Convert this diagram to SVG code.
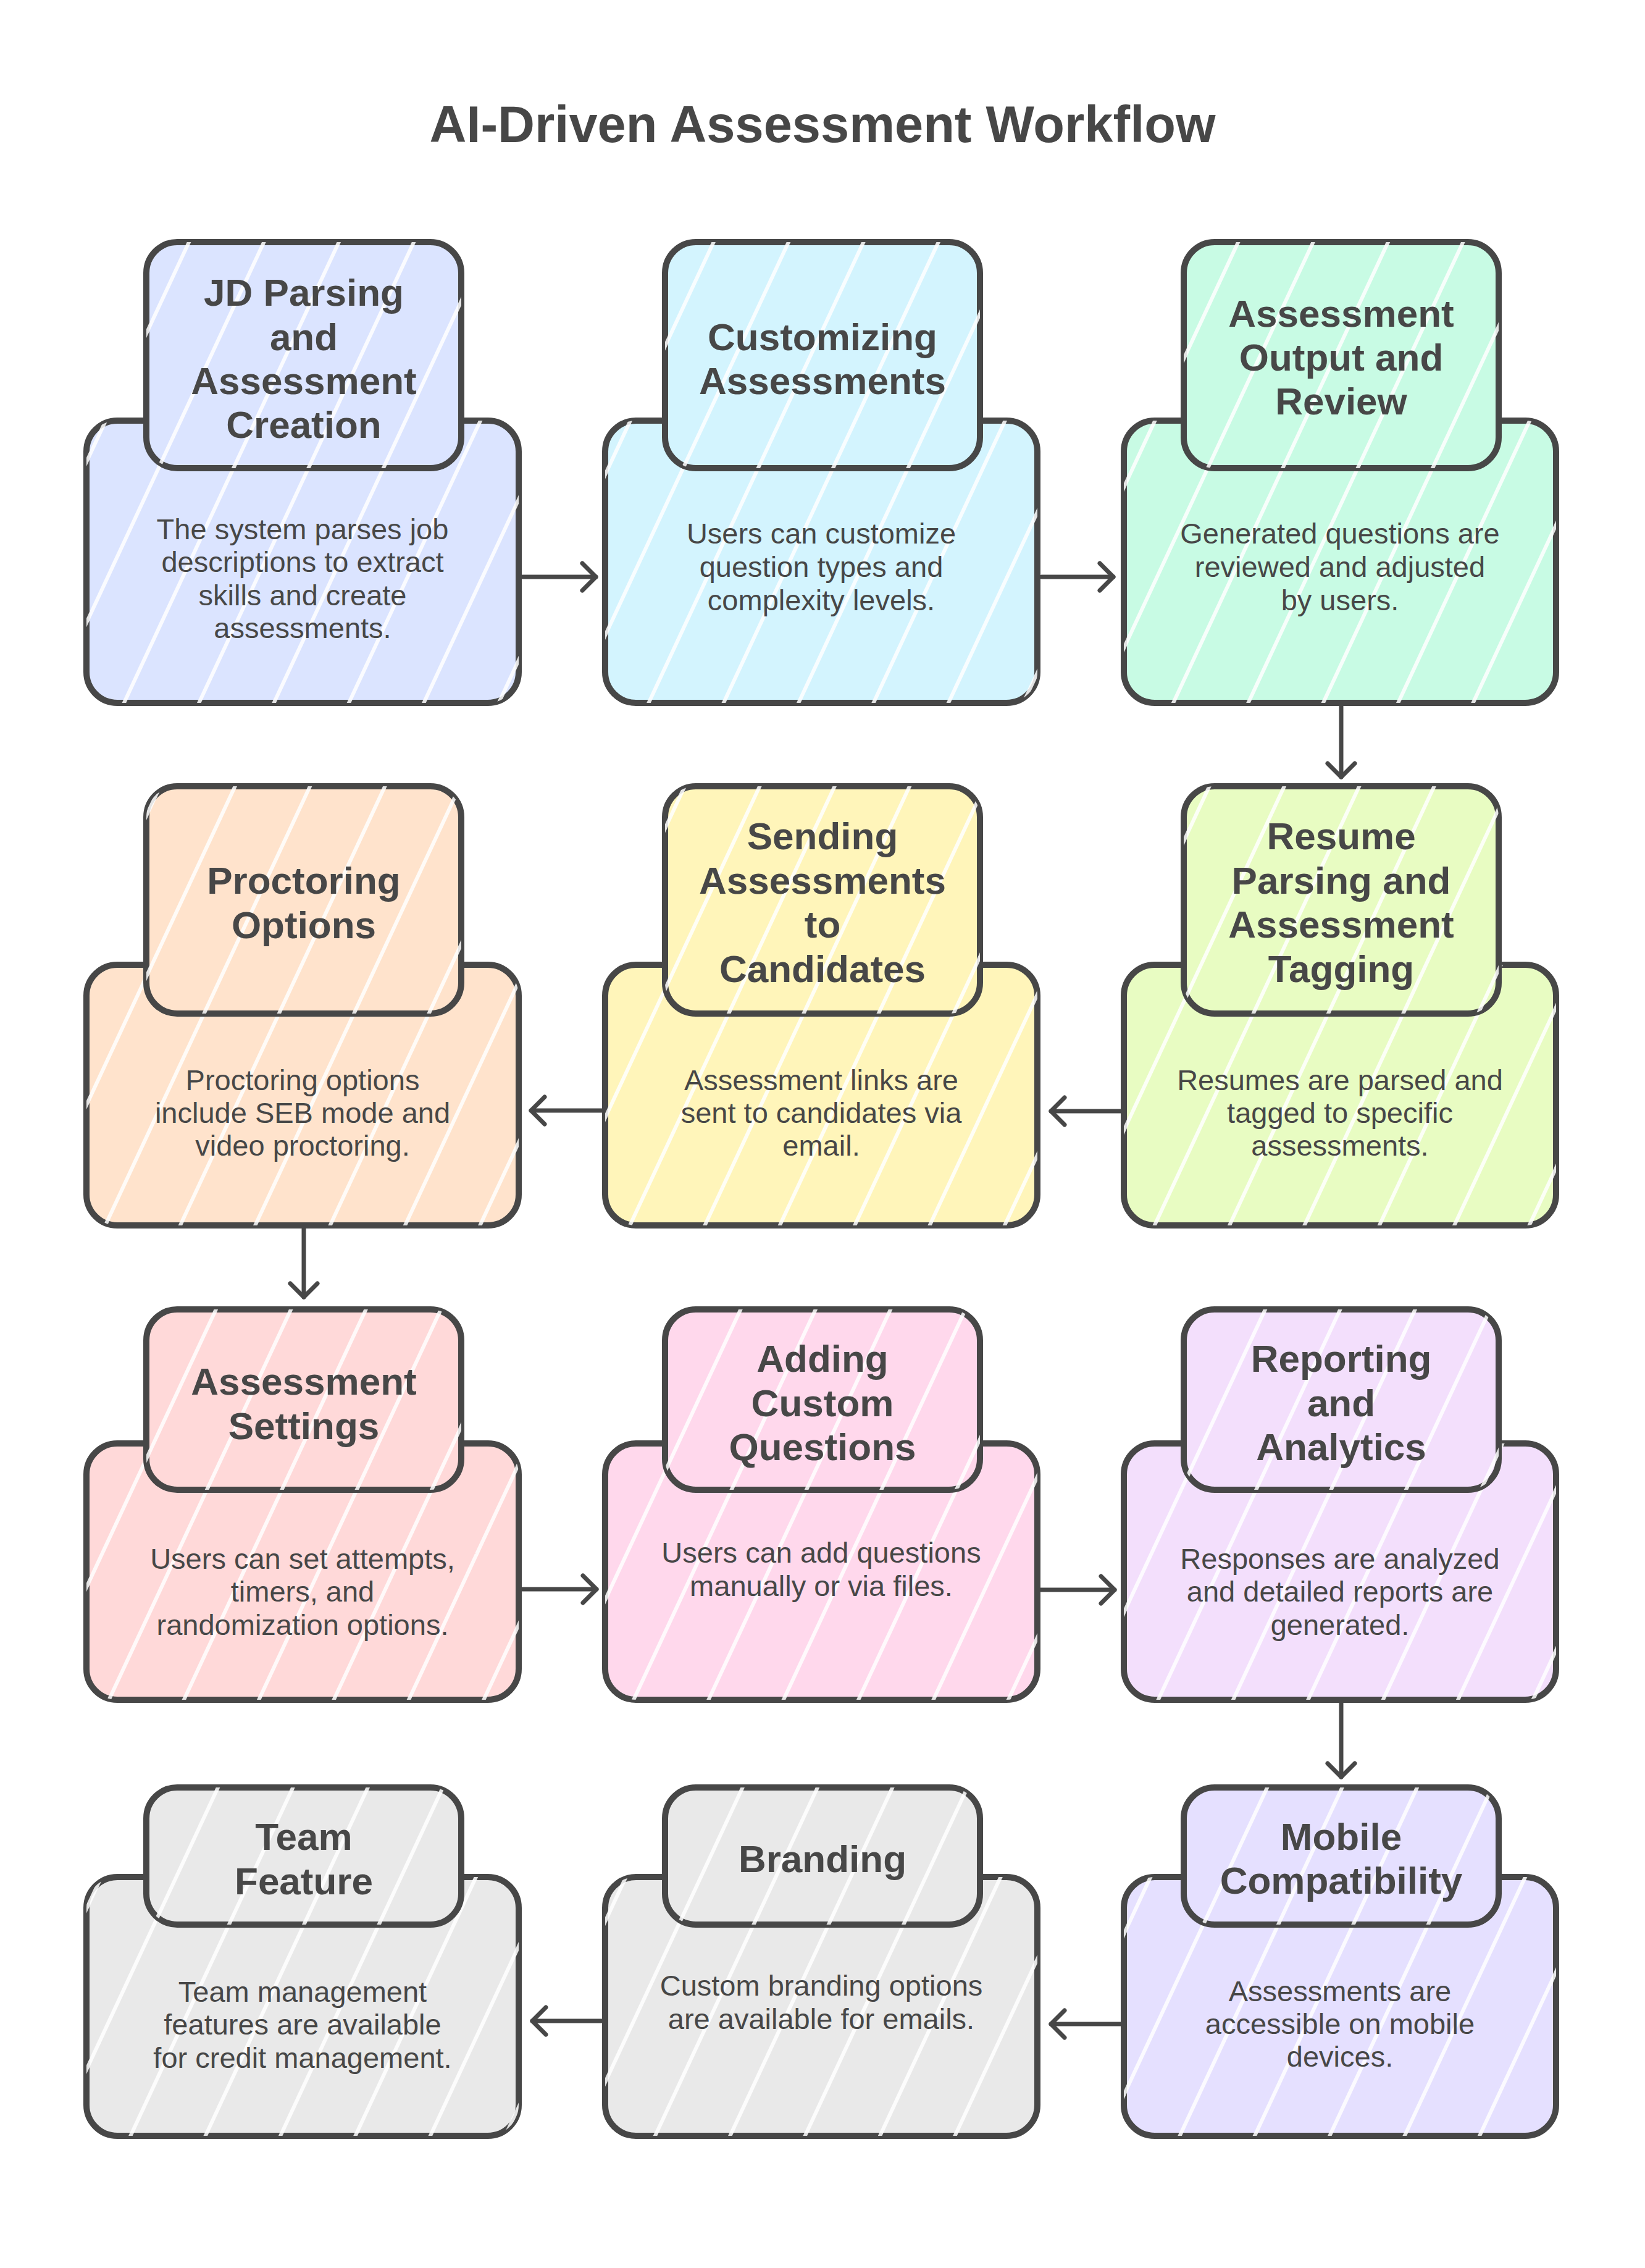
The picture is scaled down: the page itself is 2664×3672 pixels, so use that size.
<svg xmlns="http://www.w3.org/2000/svg" width="2664" height="3672" viewBox="0 0 2664 3672">
<style>
.bx{stroke:#474747;stroke-width:10;stroke-linejoin:round}
.gap{fill:url(#gaps);stroke:none}
.t{font-family:"Liberation Sans",Arial,sans-serif;font-weight:700;font-size:62px;fill:#474747;text-anchor:middle}
.d{font-family:"Liberation Sans",Arial,sans-serif;font-size:47px;fill:#474747;text-anchor:middle}
.h{font-family:"Liberation Sans",Arial,sans-serif;font-weight:700;font-size:83px;fill:#474747;text-anchor:middle}
.c{stroke:#474747;stroke-width:7;fill:none;stroke-linecap:round}
</style>
<defs>
<pattern id="gaps" patternUnits="userSpaceOnUse" width="110" height="110" patternTransform="rotate(25)">
<rect x="0" y="0" width="6" height="110" fill="#ffffff" opacity="0.85"/>
</pattern>
<marker id="ah" markerUnits="userSpaceOnUse" markerWidth="34" markerHeight="54" viewBox="0 0 34 54" refX="28" refY="27" orient="auto">
<path d="M6,5 L28,27 L6,49" fill="none" stroke="#474747" stroke-width="7" stroke-linecap="round" stroke-linejoin="round"/>
</marker>
</defs>
<rect x="0" y="0" width="2664" height="3672" fill="#ffffff"/>
<text class="h" x="1332" y="230">AI-Driven Assessment Workflow</text>

<g id="connectors">
<path class="c" d="M846,934 H965" marker-end="url(#ah)"/>
<path class="c" d="M1687,934 H1803" marker-end="url(#ah)"/>
<path class="c" d="M2172,1140 V1258" marker-end="url(#ah)"/>
<path class="c" d="M1820,1799 H1702" marker-end="url(#ah)"/>
<path class="c" d="M980,1798 H860" marker-end="url(#ah)"/>
<path class="c" d="M492,1986 V2100" marker-end="url(#ah)"/>
<path class="c" d="M845,2573 H966" marker-end="url(#ah)"/>
<path class="c" d="M1685,2574 H1805" marker-end="url(#ah)"/>
<path class="c" d="M2172,2756 V2877" marker-end="url(#ah)"/>
<path class="c" d="M1821,3277 H1702" marker-end="url(#ah)"/>
<path class="c" d="M980,3272 H862" marker-end="url(#ah)"/>
</g>

<g id="n1">
<rect class="bx" x="140" y="681" width="700" height="457" rx="50" fill="#dbe4ff"/>
<rect class="gap" x="140" y="681" width="700" height="457" rx="50"/>
<rect class="bx" x="237" y="392" width="510" height="366" rx="50" fill="#dbe4ff"/>
<rect class="gap" x="237" y="392" width="510" height="366" rx="50"/>
<text class="t" x="492"><tspan x="492" y="495">JD Parsing</tspan><tspan x="492" y="567">and</tspan><tspan x="492" y="638">Assessment</tspan><tspan x="492" y="709">Creation</tspan></text>
<text class="d"><tspan x="490" y="873">The system parses job</tspan><tspan x="490" y="926">descriptions to extract</tspan><tspan x="490" y="980">skills and create</tspan><tspan x="490" y="1033">assessments.</tspan></text>
</g>

<g id="n2">
<rect class="bx" x="980" y="681" width="700" height="457" rx="50" fill="#d3f4fe"/>
<rect class="gap" x="980" y="681" width="700" height="457" rx="50"/>
<rect class="bx" x="1077" y="392" width="510" height="366" rx="50" fill="#d3f4fe"/>
<rect class="gap" x="1077" y="392" width="510" height="366" rx="50"/>
<text class="t"><tspan x="1332" y="567">Customizing</tspan><tspan x="1332" y="638">Assessments</tspan></text>
<text class="d"><tspan x="1330" y="880">Users can customize</tspan><tspan x="1330" y="934">question types and</tspan><tspan x="1330" y="988">complexity levels.</tspan></text>
</g>

<g id="n3">
<rect class="bx" x="1820" y="681" width="700" height="457" rx="50" fill="#c8fbe4"/>
<rect class="gap" x="1820" y="681" width="700" height="457" rx="50"/>
<rect class="bx" x="1917" y="392" width="510" height="366" rx="50" fill="#c8fbe4"/>
<rect class="gap" x="1917" y="392" width="510" height="366" rx="50"/>
<text class="t"><tspan x="2172" y="529">Assessment</tspan><tspan x="2172" y="600">Output and</tspan><tspan x="2172" y="671">Review</tspan></text>
<text class="d"><tspan x="2170" y="880">Generated questions are</tspan><tspan x="2170" y="934">reviewed and adjusted</tspan><tspan x="2170" y="988">by users.</tspan></text>
</g>

<g id="n4">
<rect class="bx" x="1820" y="1562" width="700" height="422" rx="50" fill="#e8fcc2"/>
<rect class="gap" x="1820" y="1562" width="700" height="422" rx="50"/>
<rect class="bx" x="1917" y="1273" width="510" height="368" rx="50" fill="#e8fcc2"/>
<rect class="gap" x="1917" y="1273" width="510" height="368" rx="50"/>
<text class="t"><tspan x="2172" y="1375">Resume</tspan><tspan x="2172" y="1447">Parsing and</tspan><tspan x="2172" y="1518">Assessment</tspan><tspan x="2172" y="1590">Tagging</tspan></text>
<text class="d"><tspan x="2170" y="1765">Resumes are parsed and</tspan><tspan x="2170" y="1818">tagged to specific</tspan><tspan x="2170" y="1871">assessments.</tspan></text>
</g>

<g id="n5">
<rect class="bx" x="980" y="1562" width="700" height="422" rx="50" fill="#fff5ba"/>
<rect class="gap" x="980" y="1562" width="700" height="422" rx="50"/>
<rect class="bx" x="1077" y="1273" width="510" height="368" rx="50" fill="#fff5ba"/>
<rect class="gap" x="1077" y="1273" width="510" height="368" rx="50"/>
<text class="t"><tspan x="1332" y="1375">Sending</tspan><tspan x="1332" y="1447">Assessments</tspan><tspan x="1332" y="1518">to</tspan><tspan x="1332" y="1590">Candidates</tspan></text>
<text class="d"><tspan x="1330" y="1765">Assessment links are</tspan><tspan x="1330" y="1818">sent to candidates via</tspan><tspan x="1330" y="1871">email.</tspan></text>
</g>

<g id="n6">
<rect class="bx" x="140" y="1562" width="700" height="422" rx="50" fill="#ffe3cc"/>
<rect class="gap" x="140" y="1562" width="700" height="422" rx="50"/>
<rect class="bx" x="237" y="1273" width="510" height="368" rx="50" fill="#ffe3cc"/>
<rect class="gap" x="237" y="1273" width="510" height="368" rx="50"/>
<text class="t"><tspan x="492" y="1447">Proctoring</tspan><tspan x="492" y="1519">Options</tspan></text>
<text class="d"><tspan x="490" y="1765">Proctoring options</tspan><tspan x="490" y="1818">include SEB mode and</tspan><tspan x="490" y="1871">video proctoring.</tspan></text>
</g>

<g id="n7">
<rect class="bx" x="140" y="2337" width="700" height="415" rx="50" fill="#ffd9d9"/>
<rect class="gap" x="140" y="2337" width="700" height="415" rx="50"/>
<rect class="bx" x="237" y="2120" width="510" height="292" rx="50" fill="#ffd9d9"/>
<rect class="gap" x="237" y="2120" width="510" height="292" rx="50"/>
<text class="t"><tspan x="492" y="2258">Assessment</tspan><tspan x="492" y="2330">Settings</tspan></text>
<text class="d"><tspan x="490" y="2540">Users can set attempts,</tspan><tspan x="490" y="2593">timers, and</tspan><tspan x="490" y="2647">randomization options.</tspan></text>
</g>

<g id="n8">
<rect class="bx" x="980" y="2337" width="700" height="415" rx="50" fill="#ffd8ec"/>
<rect class="gap" x="980" y="2337" width="700" height="415" rx="50"/>
<rect class="bx" x="1077" y="2120" width="510" height="292" rx="50" fill="#ffd8ec"/>
<rect class="gap" x="1077" y="2120" width="510" height="292" rx="50"/>
<text class="t"><tspan x="1332" y="2221">Adding</tspan><tspan x="1332" y="2293">Custom</tspan><tspan x="1332" y="2364">Questions</tspan></text>
<text class="d"><tspan x="1330" y="2530">Users can add questions</tspan><tspan x="1330" y="2584">manually or via files.</tspan></text>
</g>

<g id="n9">
<rect class="bx" x="1820" y="2337" width="700" height="415" rx="50" fill="#f3dffc"/>
<rect class="gap" x="1820" y="2337" width="700" height="415" rx="50"/>
<rect class="bx" x="1917" y="2120" width="510" height="292" rx="50" fill="#f3dffc"/>
<rect class="gap" x="1917" y="2120" width="510" height="292" rx="50"/>
<text class="t"><tspan x="2172" y="2221">Reporting</tspan><tspan x="2172" y="2293">and</tspan><tspan x="2172" y="2364">Analytics</tspan></text>
<text class="d"><tspan x="2170" y="2540">Responses are analyzed</tspan><tspan x="2170" y="2593">and detailed reports are</tspan><tspan x="2170" y="2647">generated.</tspan></text>
</g>

<g id="n10">
<rect class="bx" x="1820" y="3039" width="700" height="419" rx="50" fill="#e5e0ff"/>
<rect class="gap" x="1820" y="3039" width="700" height="419" rx="50"/>
<rect class="bx" x="1917" y="2894" width="510" height="222" rx="50" fill="#e5e0ff"/>
<rect class="gap" x="1917" y="2894" width="510" height="222" rx="50"/>
<text class="t"><tspan x="2172" y="2995">Mobile</tspan><tspan x="2172" y="3066">Compatibility</tspan></text>
<text class="d"><tspan x="2170" y="3240">Assessments are</tspan><tspan x="2170" y="3293">accessible on mobile</tspan><tspan x="2170" y="3346">devices.</tspan></text>
</g>

<g id="n11">
<rect class="bx" x="980" y="3039" width="700" height="419" rx="50" fill="#e9e9e9"/>
<rect class="gap" x="980" y="3039" width="700" height="419" rx="50"/>
<rect class="bx" x="1077" y="2894" width="510" height="222" rx="50" fill="#e9e9e9"/>
<rect class="gap" x="1077" y="2894" width="510" height="222" rx="50"/>
<text class="t" x="1332" y="3031">Branding</text>
<text class="d"><tspan x="1330" y="3231">Custom branding options</tspan><tspan x="1330" y="3285">are available for emails.</tspan></text>
</g>

<g id="n12">
<rect class="bx" x="140" y="3039" width="700" height="419" rx="50" fill="#e9e9e9"/>
<rect class="gap" x="140" y="3039" width="700" height="419" rx="50"/>
<rect class="bx" x="237" y="2894" width="510" height="222" rx="50" fill="#e9e9e9"/>
<rect class="gap" x="237" y="2894" width="510" height="222" rx="50"/>
<text class="t"><tspan x="492" y="2995">Team</tspan><tspan x="492" y="3067">Feature</tspan></text>
<text class="d"><tspan x="490" y="3241">Team management</tspan><tspan x="490" y="3294">features are available</tspan><tspan x="490" y="3348">for credit management.</tspan></text>
</g>
</svg>
